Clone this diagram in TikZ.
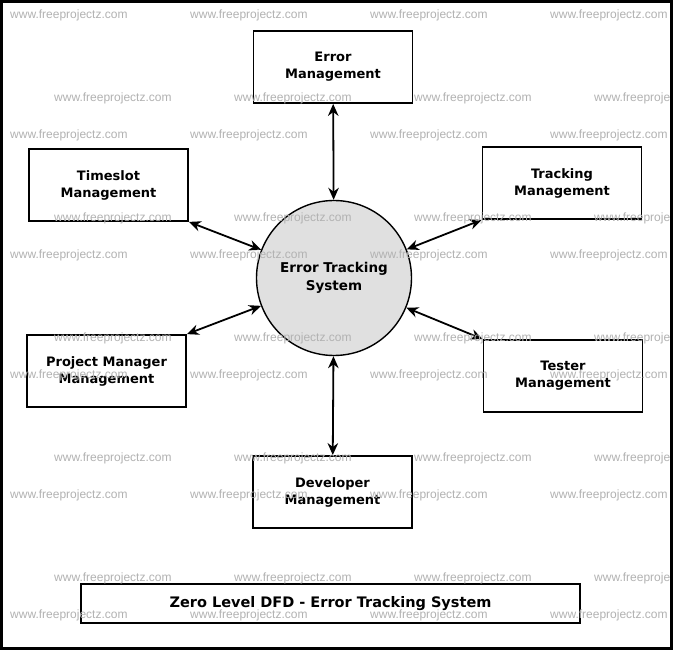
\documentclass[tikz,border=0pt]{standalone}
\usepackage{fontspec}
\setmainfont{DejaVu Sans}
\newfontfamily\wmfont{Liberation Sans}
\usetikzlibrary{shapes.geometric, arrows.meta, positioning}
\tikzstyle{arrow} = [line width=1.8pt, {Stealth[length=12pt,width=10.5pt]}-{Stealth[length=12pt,width=10.5pt]}]
\tikzstyle{block} = [rectangle, draw, line width=1.8pt, fill=white, minimum width=159pt, minimum height=72pt, font=\fontsize{13}{17}\selectfont\bfseries]
\tikzstyle{process} = [circle, draw, line width=1.4pt, fill=black!12, minimum size=155pt, inner sep=0pt, font=\fontsize{13.5}{18}\selectfont\bfseries]
\tikzstyle{titlebox} = [rectangle, draw, line width=1.8pt, fill=white, minimum width=499pt, minimum height=39pt, font=\fontsize{14.5}{17}\selectfont\bfseries]
\tikzstyle{watermark} = [anchor=west, inner sep=0pt, text=black!30, font=\wmfont\fontsize{12}{14}\selectfont]
\tikzset{every node/.style={align=center}}

\begin{document}
\begin{tikzpicture}[x=1pt, y=1pt, on grid]
    \useasboundingbox (0,0) rectangle (675,-652);
    \fill[white] (0,0) rectangle (675,-652);

    \node (sys)   [process] at (334,-278) {Error Tracking\\System};
    \node (err)   [block, above=211pt of sys, xshift=-1pt] {Error\\Management};
    \node (slot)  [block, above left=93pt and 225.5pt of sys] {Timeslot\\Management};
    \node (track) [block, above right=95pt and 228pt of sys] {Tracking\\Management};
    \node (pm)    [block, below left=93pt and 227.5pt of sys] {Project Manager\\Management};
    \node (test)  [block, below right=98pt and 229pt of sys] {Tester\\Management};
    \node (dev)   [block, below=214pt of sys, xshift=-1.5pt] {Developer\\Management};
    \node (title) [titlebox, below=111.5pt of dev, xshift=-2pt] {Zero Level DFD - Error Tracking System};

    \draw [arrow] (err)              -- (sys);
    \draw [arrow] (slot.south east)  -- (sys);
    \draw [arrow] (track.south west) -- (sys);
    \draw [arrow] (pm.north east)    -- (sys);
    \draw [arrow] (test.north west)  -- (sys);
    \draw [arrow] (dev)              -- (sys);

    % watermark grid
    \begin{scope}
        \clip (3,-3) rectangle (670,-647);
        \foreach \y in {15,135,...,615}
            \foreach \x in {10,190,370,550}
                \node (wa-\x-\y) [watermark] at (\x,-\y) {www.freeprojectz.com};
        \foreach \y in {98,218,...,578}
            \foreach \x in {54,234,414,594}
                \node (wb-\x-\y) [watermark] at (\x,-\y) {www.freeprojectz.com};
    \end{scope}

    \draw [line width=3pt] (1.5,-1.5) rectangle (671.5,-648.5);
\end{tikzpicture}
\end{document}
